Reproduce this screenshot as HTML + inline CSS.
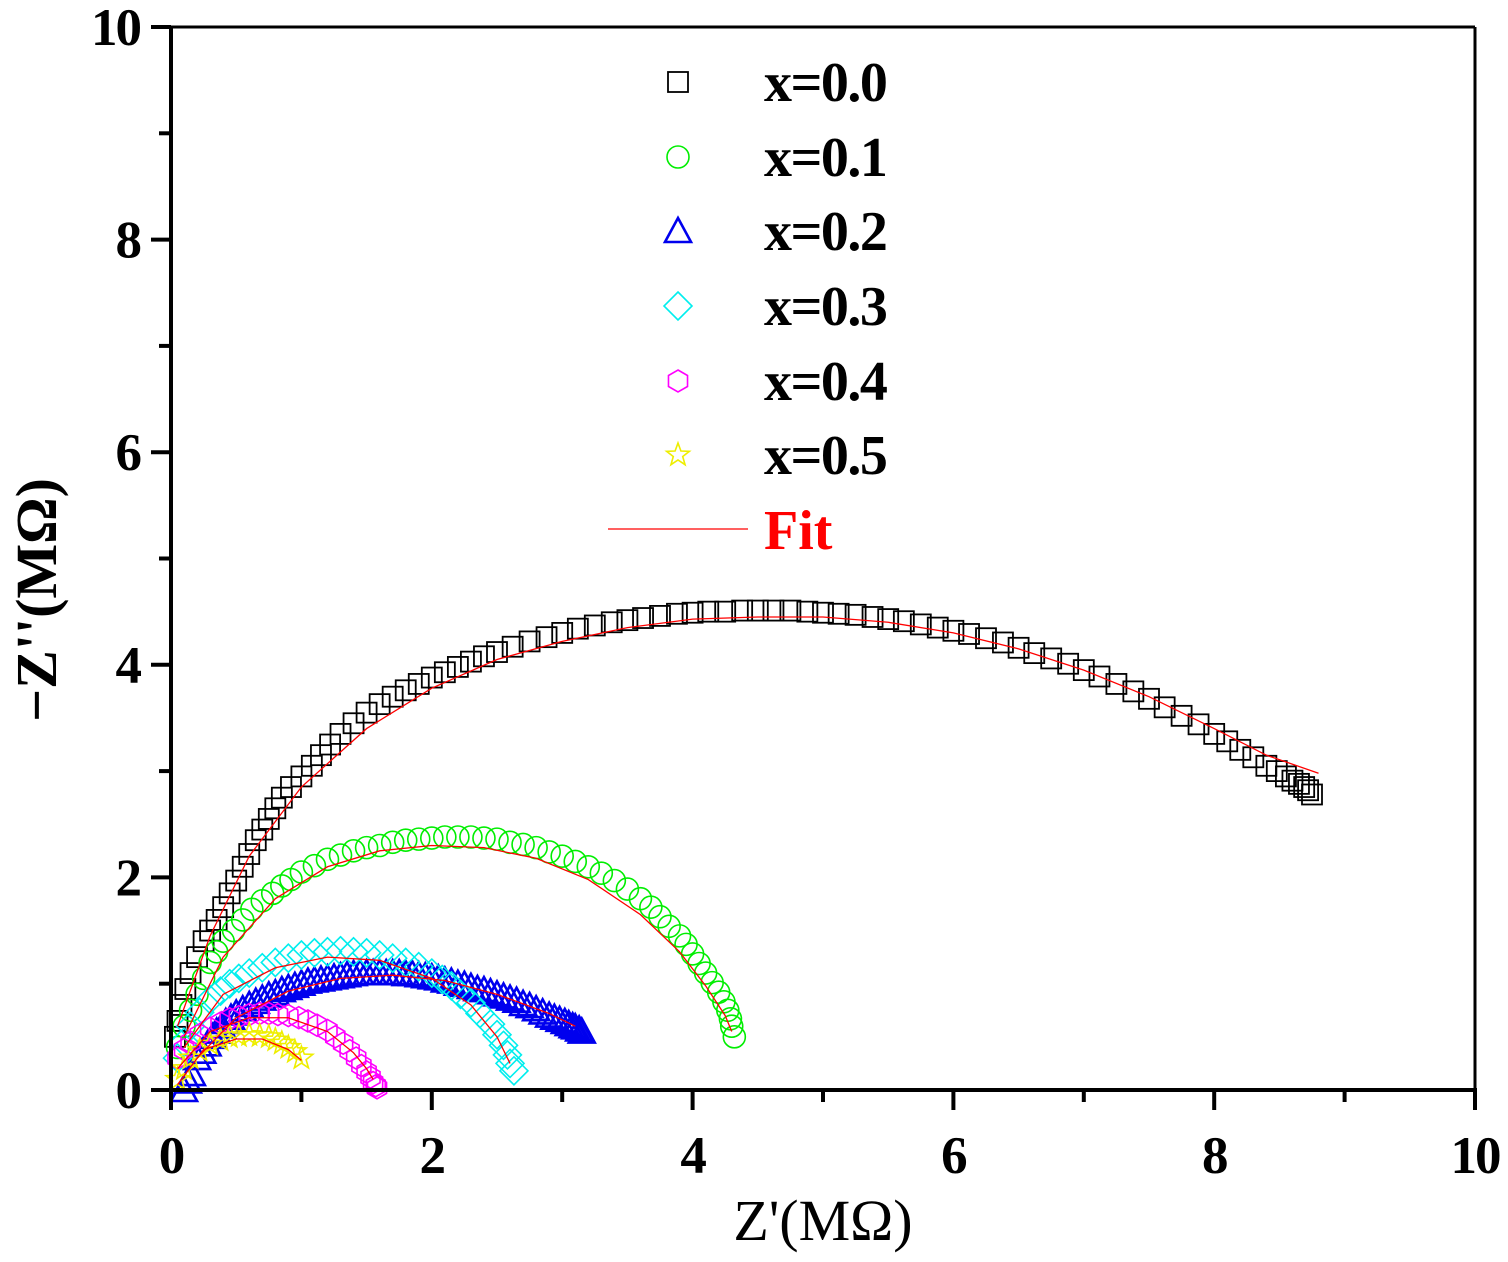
<!DOCTYPE html>
<html><head><meta charset="utf-8"><style>
html,body{margin:0;padding:0;background:#fff;}
svg text{font-family:"Liberation Serif",serif;}
</style></head><body>
<svg id="chart" width="1508" height="1257" viewBox="0 0 1508 1257" xmlns="http://www.w3.org/2000/svg">
<g id="plot"></g>
<g id="axes"></g>
<g id="legend"></g>
</svg>
<script>
const xTicks=[0,2,4,6,8,10];
const yTicks=[0,2,4,6,8,10];
const s0x=[0.03,0.05,0.08,0.11,0.15,0.2,0.25,0.3,0.35,0.4,0.45,0.5,0.55,0.6,0.65,0.7,0.75,0.8,0.85,0.92,1.0,1.08,1.15,1.22,1.3,1.4,1.5,1.6,1.7,1.8,1.9,2.0,2.1,2.2,2.3,2.4,2.5,2.62,2.75,2.88,3.0,3.12,3.25,3.38,3.5,3.62,3.75,3.88,4.0,4.12,4.25,4.38,4.5,4.62,4.75,4.88,5.0,5.12,5.25,5.38,5.5,5.62,5.75,5.88,6.0,6.12,6.25,6.38,6.5,6.62,6.75,6.88,7.0,7.12,7.25,7.38,7.5,7.62,7.75,7.88,8.0,8.1,8.2,8.3,8.4,8.48,8.55,8.6,8.65,8.69,8.72,8.75];
const s0y=[0.5,0.65,0.8,0.95,1.1,1.25,1.4,1.5,1.6,1.72,1.85,1.97,2.1,2.22,2.35,2.45,2.55,2.65,2.75,2.85,2.95,3.05,3.15,3.25,3.35,3.45,3.55,3.63,3.7,3.76,3.82,3.88,3.93,3.98,4.03,4.08,4.12,4.17,4.22,4.26,4.3,4.34,4.37,4.4,4.42,4.44,4.46,4.48,4.49,4.5,4.5,4.51,4.51,4.51,4.51,4.5,4.49,4.48,4.47,4.45,4.43,4.41,4.38,4.35,4.32,4.29,4.25,4.21,4.16,4.11,4.06,4.01,3.95,3.89,3.82,3.75,3.68,3.6,3.52,3.44,3.35,3.28,3.2,3.13,3.05,3.0,2.95,2.91,2.88,2.85,2.82,2.78];
const s1x=[0.05,0.1,0.15,0.2,0.25,0.3,0.35,0.4,0.48,0.55,0.62,0.7,0.78,0.85,0.92,1.0,1.1,1.2,1.3,1.4,1.5,1.6,1.7,1.8,1.9,2.0,2.1,2.2,2.3,2.4,2.5,2.6,2.7,2.8,2.9,3.0,3.1,3.2,3.3,3.4,3.5,3.6,3.68,3.75,3.82,3.9,3.95,4.0,4.05,4.1,4.15,4.2,4.24,4.27,4.29,4.3,4.32];
const s1y=[0.4,0.6,0.75,0.9,1.05,1.2,1.3,1.4,1.5,1.6,1.7,1.78,1.85,1.92,1.98,2.05,2.11,2.17,2.21,2.25,2.28,2.3,2.33,2.35,2.36,2.37,2.38,2.38,2.38,2.37,2.36,2.33,2.31,2.28,2.24,2.2,2.15,2.1,2.04,1.97,1.89,1.8,1.72,1.63,1.54,1.45,1.37,1.28,1.19,1.1,1.01,0.92,0.83,0.75,0.67,0.6,0.5];
const s2x=[0.1,0.13,0.16,0.2,0.24,0.28,0.32,0.35,0.39,0.42,0.46,0.5,0.55,0.6,0.65,0.7,0.75,0.8,0.85,0.9,0.95,1.0,1.05,1.1,1.15,1.2,1.25,1.3,1.35,1.4,1.45,1.5,1.55,1.6,1.65,1.7,1.75,1.8,1.85,1.9,1.95,2.0,2.05,2.1,2.15,2.2,2.25,2.3,2.35,2.4,2.45,2.5,2.55,2.6,2.65,2.7,2.75,2.8,2.85,2.9,2.94,2.98,3.02,3.05,3.08,3.1,3.13,3.15];
const s2y=[0.0,0.08,0.15,0.3,0.36,0.43,0.5,0.55,0.6,0.64,0.68,0.72,0.76,0.8,0.83,0.86,0.89,0.91,0.94,0.96,0.98,1.0,1.02,1.03,1.04,1.05,1.06,1.07,1.08,1.09,1.1,1.1,1.1,1.1,1.1,1.1,1.1,1.09,1.09,1.08,1.07,1.06,1.05,1.03,1.02,1.0,0.99,0.97,0.95,0.94,0.92,0.9,0.88,0.86,0.84,0.81,0.79,0.76,0.73,0.7,0.68,0.66,0.64,0.62,0.6,0.59,0.57,0.55];
const s3x=[0.05,0.1,0.15,0.22,0.3,0.38,0.45,0.52,0.6,0.7,0.8,0.9,1.0,1.1,1.2,1.3,1.4,1.5,1.6,1.7,1.8,1.9,2.0,2.08,2.15,2.22,2.3,2.37,2.45,2.5,2.55,2.58,2.6,2.63];
const s3y=[0.3,0.45,0.6,0.73,0.85,0.93,1.0,1.05,1.1,1.15,1.2,1.24,1.27,1.29,1.3,1.31,1.3,1.29,1.27,1.24,1.2,1.16,1.1,1.04,0.98,0.9,0.82,0.72,0.62,0.52,0.42,0.33,0.25,0.18];
const s4x=[0.05,0.1,0.15,0.22,0.3,0.38,0.45,0.52,0.6,0.68,0.75,0.82,0.9,0.98,1.05,1.12,1.2,1.26,1.32,1.37,1.42,1.46,1.5,1.53,1.55,1.57,1.58];
const s4y=[0.3,0.38,0.45,0.52,0.58,0.63,0.67,0.69,0.71,0.72,0.72,0.71,0.7,0.68,0.65,0.61,0.56,0.5,0.44,0.37,0.3,0.23,0.17,0.12,0.07,0.04,0.02];
const s5x=[0.05,0.1,0.15,0.22,0.3,0.38,0.45,0.52,0.6,0.68,0.75,0.8,0.85,0.9,0.95,1.0];
const s5y=[0.1,0.2,0.3,0.37,0.43,0.47,0.5,0.51,0.52,0.51,0.5,0.47,0.44,0.4,0.36,0.3];
const f0x=[0.05,0.3,0.6,1.0,1.5,2.0,2.5,3.0,3.5,4.0,4.5,5.0,5.5,6.0,6.5,7.0,7.5,8.0,8.4,8.8];
const f0y=[0.6,1.45,2.2,2.85,3.4,3.78,4.05,4.22,4.35,4.43,4.45,4.45,4.4,4.3,4.15,3.95,3.7,3.4,3.15,2.98];
const f1x=[0.1,0.4,0.8,1.2,1.6,2.0,2.4,2.8,3.2,3.6,3.9,4.1,4.25,4.3];
const f1y=[0.5,1.25,1.8,2.1,2.25,2.3,2.28,2.18,1.98,1.65,1.3,0.98,0.7,0.55];
const f2x=[0.2,0.5,0.9,1.3,1.7,2.1,2.5,2.9,3.1];
const f2y=[0.3,0.68,0.93,1.05,1.08,1.03,0.9,0.72,0.6];
const f3x=[0.1,0.4,0.8,1.2,1.6,2.0,2.3,2.5,2.6];
const f3y=[0.4,0.9,1.15,1.25,1.22,1.05,0.8,0.5,0.25];
const f4x=[0.05,0.3,0.6,0.9,1.2,1.4,1.5,1.55];
const f4y=[0.2,0.55,0.68,0.68,0.55,0.35,0.2,0.1];
const f5x=[0.05,0.25,0.5,0.7,0.9,1.0];
const f5y=[0.05,0.38,0.48,0.48,0.38,0.28];
const seriesNames=["x=0.0","x=0.1","x=0.2","x=0.3","x=0.4","x=0.5"];

const NS="http://www.w3.org/2000/svg";
const X0=171,X1=1475,Y0=1090,Y1=27;
function sx(v){return X0+(X1-X0)*v/10;}
function sy(v){return Y0-(Y0-Y1)*v/10;}
function mk(tag,attrs,parent){const e=document.createElementNS(NS,tag);for(const k in attrs)e.setAttribute(k,attrs[k]);parent.appendChild(e);return e;}
const plot=document.getElementById('plot'),axes=document.getElementById('axes'),legend=document.getElementById('legend');

function marker(shape,cx,cy,color,parent){
  const r=11;let e;
  if(shape==='square')e=mk('rect',{x:cx-r+1,y:cy-r+1,width:2*r-2,height:2*r-2,fill:'none',stroke:color,'stroke-width':1.8},parent);
  else if(shape==='circle')e=mk('circle',{cx:cx,cy:cy,r:r,fill:'none',stroke:color,'stroke-width':1.6},parent);
  else{let pts=[];
    if(shape==='tri')pts=[[0,-r-2],[r+2,r],[-r-2,r]];
    else if(shape==='diamond')pts=[[0,-r-3],[r+3,0],[0,r+3],[-r-3,0]];
    else if(shape==='hex'){for(let i=0;i<6;i++){const a=Math.PI/3*i-Math.PI/2;pts.push([r*Math.cos(a),r*Math.sin(a)]);}}
    else if(shape==='star'){for(let i=0;i<10;i++){const a=Math.PI/5*i-Math.PI/2;const rr=i%2?r*0.45:r+1;pts.push([rr*Math.cos(a),rr*Math.sin(a)]);}}
    e=mk('polygon',{points:pts.map(p=>(cx+p[0])+','+(cy+p[1])).join(' '),fill:'none',stroke:color,'stroke-width':shape==='tri'?2.6:1.6},parent);}
  return e;
}
const series=[[s0x,s0y,'square','#000'],[s1x,s1y,'circle','#00ee00'],[s2x,s2y,'tri','#0000ee'],[s3x,s3y,'diamond','#00eeee'],[s4x,s4y,'hex','#ff00ff'],[s5x,s5y,'star','#eeee00']];
const fits=[[f0x,f0y],[f1x,f1y],[f2x,f2y],[f3x,f3y],[f4x,f4y],[f5x,f5y]];
series.forEach((s,i)=>{
  const g=mk('g',{},plot);
  
  
  s[0].forEach((v,j)=>{const m=marker(s[2],sx(v),sy(s[1][j]),s[3],g);
    
    });
});
fits.forEach((f,i)=>{
  const p=mk('polyline',{points:f[0].map((v,j)=>sx(v)+','+sy(f[1][j])).join(' '),fill:'none',stroke:'#ff0000','stroke-width':1.3},plot);
  
  
});
let a=mk('line',{x1:X0,y1:Y1,x2:X0,y2:Y0+2,stroke:'#000','stroke-width':4},axes);

a=mk('line',{x1:X0-2,y1:Y0,x2:X1+2,y2:Y0,stroke:'#000','stroke-width':4},axes);

mk('line',{x1:X0,y1:Y1,x2:X1,y2:Y1,stroke:'#000','stroke-width':3},axes);
mk('line',{x1:X1,y1:Y1,x2:X1,y2:Y0,stroke:'#000','stroke-width':3},axes);
for(let v=0;v<=10;v++){
  const major=v%2===0,len=major?20:12;
  mk('line',{x1:sx(v),y1:Y0,x2:sx(v),y2:Y0+len,stroke:'#000','stroke-width':4},axes);
  mk('line',{x1:X0,y1:sy(v),x2:X0-len,y2:sy(v),stroke:'#000','stroke-width':4},axes);
}
xTicks.forEach(v=>{const t=mk('text',{x:sx(v),y:1173,'text-anchor':'middle','font-size':53,'font-weight':'bold','letter-spacing':-2},axes);t.textContent=v;
  });
yTicks.forEach(v=>{const t=mk('text',{x:140,y:sy(v)+18,'text-anchor':'end','font-size':53,'font-weight':'bold','letter-spacing':-2},axes);t.textContent=v;
  });
let t=mk('text',{x:823,y:1240,'text-anchor':'middle','font-size':58},axes);t.textContent="Z'(MΩ)";

t=mk('text',{x:0,y:0,'text-anchor':'middle','font-size':58,'font-weight':'bold',transform:'translate(56,600) rotate(-90)'},axes);t.textContent="\u2212Z''(MΩ)";

const rows=[82,157,231,306,381,455];
series.forEach((s,i)=>{
  const g=mk('g',{},legend);
  
  
  marker(s[2],678,rows[i],s[3],g);
  const tt=mk('text',{x:764,y:rows[i]+19,'font-size':56,'font-weight':'bold','letter-spacing':-1.5},g);tt.textContent=seriesNames[i];
});
const fg=mk('g',{},legend);


mk('line',{x1:608,y1:529,x2:748,y2:529,stroke:'#ff0000','stroke-width':1.3},fg);
const ft=mk('text',{x:764,y:549,'font-size':56,'font-weight':'bold',fill:'#ff0000'},fg);ft.textContent='Fit';
</script>
</body></html>
